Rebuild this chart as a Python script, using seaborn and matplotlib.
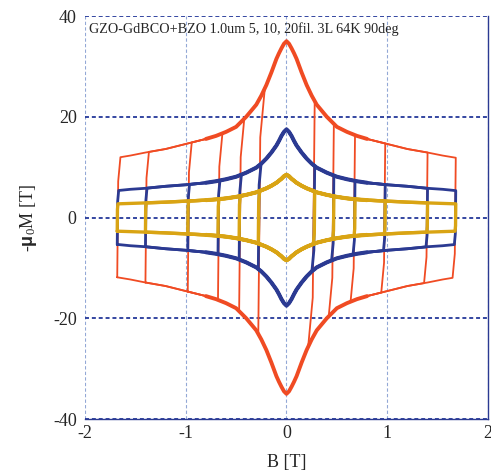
import numpy as np
import pandas as pd
import matplotlib
matplotlib.use("Agg")
import matplotlib.pyplot as plt
import seaborn as sns

# envelope of the loops read at |B| [T]; upper branch, the curves are symmetric in B
env_b = [0.0, 0.025, 0.05, 0.075, 0.1, 0.15, 0.2, 0.25, 0.3, 0.4, 0.5, 0.6, 0.7, 0.8,
         1.0, 1.2, 1.4, 1.55, 1.7]
env_5fil = [35.0, 34.5, 33.6, 32.6, 31.5, 28.8, 26.3, 24.2, 22.4, 20.0, 18.0, 17.0,
            16.2, 15.6, 14.6, 13.6, 12.9, 12.3, 11.8]
env_10fil = [17.5, 17.0, 16.2, 15.2, 14.3, 12.9, 11.7, 10.7, 9.9, 8.9, 8.1, 7.6,
             7.2, 6.9, 6.5, 6.2, 5.8, 5.6, 5.3]
env_20fil = [8.5, 8.2, 7.7, 7.3, 6.9, 6.3, 5.8, 5.4, 5.0, 4.5, 4.1, 3.8,
             3.6, 3.45, 3.25, 3.05, 2.9, 2.8, 2.7]

# maximum field of every minor loop [T]
loop_bmax = [1.68, 1.40, 0.98, 0.68, 0.47, 0.28]

samples = ["5fil", "10fil", "20fil"]
envelopes = [env_5fil, env_10fil, env_20fil]
colors = ["#F04B23", "#2B3A92", "#D9A414"]
loop_lw = [1.3, 2.0, 2.4]
env_lw = [2.8, 2.9, 2.9]

# slope dM/dB of the near-vertical parts of the loops
k_rev = 750.0

b_abs = np.array(env_b)


def build_loop(env, bmax):
    m_abs = np.array(env)
    b_full = np.concatenate([-b_abs[::-1], b_abs[1:]])
    m_full = np.concatenate([m_abs[::-1], m_abs[1:]])
    m_top = np.interp(bmax, b_abs, m_abs)
    # where the steep part meets the other branch
    d = 2 * m_top / k_rev
    for _ in range(30):
        d = (m_top + np.interp(bmax - d, b_abs, m_abs)) / k_rev
    m_end = np.interp(bmax - d, b_abs, m_abs)
    # knee: most of the jump is almost vertical, then it bends into the branch
    kb = 0.3 * d
    km = 0.8 * (m_top + m_end)
    up = (b_full > -bmax + d) & (b_full < bmax)
    lo = (b_full > -bmax) & (b_full < bmax - d)
    b = [-bmax, -bmax + kb, -bmax + d, *b_full[up],
         bmax, bmax - kb, bmax - d, *b_full[lo][::-1], -bmax]
    m = [-m_top, -m_top + km, m_end, *m_full[up],
         m_top, m_top - km, -m_end, *(-m_full[lo][::-1]), -m_top]
    return b, m


rows = []
for s, env in zip(samples, envelopes):
    for i, bmax in enumerate(loop_bmax):
        b, m = build_loop(env, bmax)
        for j, (x, y) in enumerate(zip(b, m)):
            rows.append({"sample": s, "loop": f"{s}_{i}", "B": x, "M": y, "n": j})
df = pd.DataFrame(rows)

sns.set_style("white")
plt.rcParams["font.family"] = ["Liberation Serif", "DejaVu Serif"]
plt.rcParams["axes.unicode_minus"] = False
plt.rcParams["mathtext.fontset"] = "custom"
plt.rcParams["mathtext.rm"] = "Liberation Serif"
plt.rcParams["mathtext.it"] = "Liberation Serif:italic"
plt.rcParams["mathtext.bf"] = "Liberation Sans:bold"

fig = plt.figure(figsize=(4.91, 4.74), dpi=100)
ax = fig.add_axes([0.1731, 0.1160, 0.8208, 0.8502])

for s, env, c, lw, elw in zip(samples, envelopes, colors, loop_lw, env_lw):
    sub = df[df["sample"] == s]
    sns.lineplot(data=sub, x="B", y="M", units="loop", estimator=None, sort=False,
                 color=c, lw=lw, ax=ax, legend=False, solid_joinstyle="round")
    # overlapping branches near the centre look thicker
    core = [v for v in env_b if v <= 0.98]
    cm = env[:len(core)]
    cb = [-v for v in core[::-1]] + core[1:]
    cu = cm[::-1] + cm[1:]
    sns.lineplot(x=cb, y=cu, color=c, lw=elw, ax=ax, sort=False, estimator=None,
                 solid_joinstyle="round")
    sns.lineplot(x=cb, y=[-v for v in cu], color=c, lw=elw, ax=ax, sort=False,
                 estimator=None, solid_joinstyle="round")

ax.set_xlim(-2, 2)
ax.set_ylim(-40, 40)
ax.set_xticks([-2, -1, 0, 1, 2])
ax.set_yticks([-40, -20, 0, 20, 40])
ax.grid(axis="x", color="#93A8D6", linestyle=(0, (3, 2)), lw=0.8)
ax.grid(axis="y", color="#24389A", linestyle=(0, (2.2, 1.6)), lw=1.3)
ax.set_axisbelow(True)
for side in ["left", "top"]:
    ax.spines[side].set_visible(False)
for side in ["right", "bottom"]:
    ax.spines[side].set_color("#2B3A92")
    ax.spines[side].set_linewidth(1.0)
ax.tick_params(axis="both", length=0, labelsize=13)
ax.tick_params(axis="x", pad=4)
ax.tick_params(axis="y", pad=6)

ax.set_xlabel("B [T]", fontsize=13, labelpad=9)
ax.set_ylabel(r"-$\mathbf{\mu}_{\mathrm{0}}$M [T]", fontsize=13, labelpad=10)

ax.text(0.01, 0.985, "GZO-GdBCO+BZO 1.0um 5, 10, 20fil. 3L 64K 90deg",
        transform=ax.transAxes, ha="left", va="top", fontsize=10.2)

plt.savefig("out.png", dpi=100)
